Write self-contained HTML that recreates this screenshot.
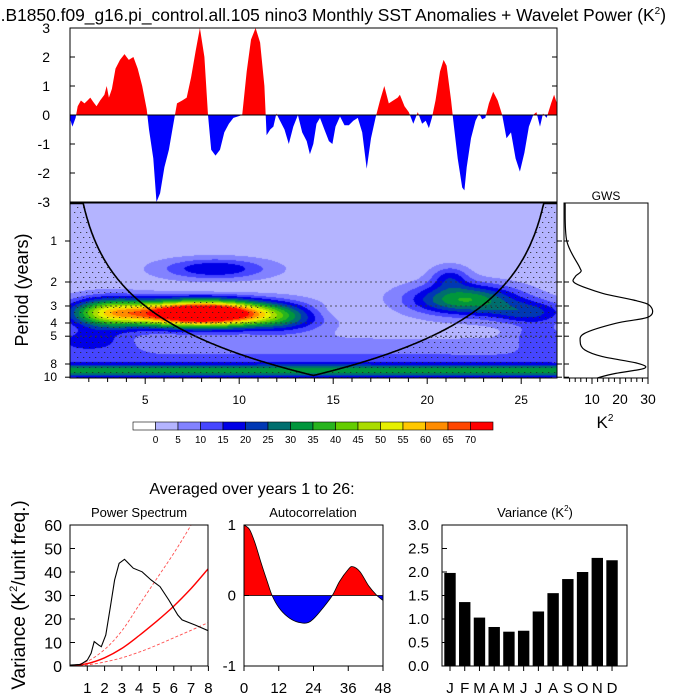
<!DOCTYPE html>
<html><head><meta charset="utf-8">
<style>
html,body{margin:0;padding:0;background:#fff;}
#wrap{position:relative;width:700px;height:700px;overflow:hidden;font-family:"Liberation Sans",Arial,sans-serif;}
canvas,svg{position:absolute;left:0;top:0;}
text{font-family:"Liberation Sans",Arial,sans-serif;}
</style></head>
<body>
<div id="wrap">
<canvas id="wv" width="700" height="700"></canvas>
<svg id="svg" width="700" height="700" xmlns="http://www.w3.org/2000/svg"></svg>
</div>
<script>
// ---- data ----
const sstYears = [0.99,1.13,1.30,1.41,1.58,1.77,1.93,2.08,2.24,2.41,2.60,2.83,2.95,3.07,3.23,3.42,3.66,3.90,4.13,4.37,4.60,4.84,5.08,5.20,5.43,5.60,5.79,6.02,6.26,6.50,6.69,6.97,7.21,7.44,7.68,7.91,8.15,8.34,8.51,8.74,8.98,9.21,9.45,9.69,9.92,10.16,10.40,10.63,10.87,11.11,11.34,11.46,11.65,11.82,11.98,12.17,12.41,12.64,12.88,13.12,13.35,13.59,13.76,13.94,14.11,14.30,14.53,14.77,14.96,15.12,15.36,15.60,15.83,16.07,16.31,16.54,16.78,17.01,17.25,17.49,17.72,17.96,18.19,18.43,18.55,18.79,19.02,19.26,19.50,19.73,19.92,20.09,20.25,20.44,20.68,20.87,21.03,21.27,21.39,21.62,21.86,21.98,22.10,22.33,22.57,22.76,22.92,23.09,23.28,23.51,23.75,23.99,24.22,24.46,24.70,24.93,25.17,25.41,25.64,25.81,26.00,26.16,26.35,26.59,26.75,26.90];
const sstAnom = [-0.1,-0.4,-0.1,0.3,0.5,0.4,0.5,0.6,0.45,0.3,0.5,0.7,1.0,0.6,0.9,1.6,1.9,2.1,1.9,2.0,1.6,1.0,0.2,-0.5,-1.5,-3.0,-2.7,-1.8,-1.2,-0.3,0.4,0.5,0.6,1.3,2.2,3.0,2.0,0,-1.2,-1.4,-1.2,-0.6,-0.3,-0.1,-0.05,0,1.5,2.6,3.0,2.5,1.0,-0.7,-0.5,-0.4,0.05,-0.2,-0.5,-1.0,-0.4,0.0,-0.6,-0.9,-1.35,-1.0,-0.3,-0.1,-0.5,-0.9,-1.0,-0.4,-0.05,-0.35,-0.35,-0.2,-0.1,-0.6,-1.85,-0.8,-0.1,0.5,1.0,0.4,0.5,0.6,0.7,0.3,0.1,-0.3,0.1,-0.3,-0.2,-0.45,-0.1,0.5,1.5,1.9,1.7,0.5,-0.2,-1.5,-2.5,-2.6,-1.8,-0.8,-0.2,0.05,-0.15,-0.1,0.4,0.8,0.5,0.0,-0.8,-0.6,-1.5,-1.95,-1.3,-0.4,0.0,0.1,-0.4,0.05,-0.1,0.4,0.7,0.4];
const sstTicks = [3,2,1,0,-1,-2,-3];

// wavelet power blobs: centre year, centre log2(period), sigma year, sigma log2, amplitude
const blobYear = [8.0, 3.0, 12.5, 22.0, 25.5, 8.7, 21.2, 14, 14, 2.0, 26.0, 15.0, 9.0];
const blobLogP = [1.77, 1.75, 1.9, 1.43, 1.75, 0.68, 0.89, 3.17, 2.8, 2.4, 2.3, 1.72, 1.14];
const blobSigY = [2.6, 1.5, 1.5, 2.0, 1.5, 2.0, 0.7, 60, 60, 1.5, 1.0, 1.5, 1.8];
const blobSigP = [0.22, 0.25, 0.25, 0.26, 0.2, 0.18, 0.2, 0.12, 0.3, 0.2, 0.2, 0.15, 0.08];
const blobAmp = [100, 40, 15, 33, 18, 18, 14, 28, 8, 12, 10, -4, -4];
const powerBase = 2;
const periodTicks = [1,2,3,4,5,8,10];
const yearTicks = [5,10,15,20,25];
const levelLabels = [0,5,10,15,20,25,30,35,40,45,50,55,60,65,70];
const levelColors = ['#ffffff','#b4b4ff','#8282ff','#4646ff','#0000e6','#0038b4','#006e6e','#00963c','#28b41e','#64cd00','#aadc00','#e6f000','#ffc800','#ff8c00','#ff4600','#ff0000'];

const gwsPeriod = [0.53,1.0,1.55,1.68,1.83,2.04,2.42,2.71,3.0,3.6,4.02,4.76,5.49,6.3,7.06,7.9,8.6,9.37,10.1];
const gwsPower = [0.4,1,5.5,6,4,4,13.7,24.8,30.8,30.3,18.5,7.4,5.8,7.4,13.7,26.3,28.7,18.5,12];
const gwsTicks = [10,20,30];

const psFreq = [0.03,0.62,1.0,1.22,1.4,1.66,1.81,2.07,2.33,2.58,2.84,3.15,3.66,4.17,4.69,5.2,5.71,6.23,6.48,7.25,8.0];
const psPower = [0.4,0.7,2.5,5.4,10.4,8.9,8.2,13.2,25,36.6,43.7,45.4,41.6,40.1,36.6,33.8,28.1,21.7,19.6,17.4,15];
const redFreq = [0,1,2,3,4,5,6,7,8];
const redMean = [0,1,3.5,7.5,13,19,25.5,33,41.5];
const redUpper = [0,2,7,15,26,37,48,60,73];
const redLower = [0,0.5,1.7,3.5,5.9,8.8,12,15.2,18.5];
const psYTicks = [0,10,20,30,40,50,60];
const psXTicks = [1,2,3,4,5,6,7,8];

const acLag = [0,2,4,6,8,9.7,12,15,18,21.6,24,27,30.5,33,36,37.5,40,43,45.9,48];
const acVal = [1,0.93,0.72,0.45,0.2,0,-0.17,-0.3,-0.37,-0.39,-0.33,-0.19,0,0.2,0.37,0.41,0.34,0.14,0,-0.07];
const acXTicks = [0,12,24,36,48];
const acYTicks = [1,0,-1];

const months = ['J','F','M','A','M','J','J','A','S','O','N','D'];
const monthVar = [1.98,1.36,1.03,0.83,0.73,0.75,1.16,1.55,1.85,2.0,2.3,2.25];
const varTicks = [0,0.5,1,1.5,2,2.5,3];

// ---- scales ----
const X0=70, X1=557;
const xT = yr => X0 + (yr-1)*18.8;
const yA = v => 115 - v*29;
const WT=203, WB=378;
const yP = p => 241 + 41*Math.log2(p);
const xG = v => 564 + 2.8*v;
const xF = f => 70 + 17.3*f;
const yPS = v => 666 - v*141/60;
const xL = l => 244 + l*139/48;
const yC = c => 595.5 - c*70.5;
const xM = i => 450 + i*14.73;
const yV = v => 666 - v*47;

const NS='http://www.w3.org/2000/svg';
const svg=document.getElementById('svg');
function mk(tag, attrs, parent){const e=document.createElementNS(NS,tag);for(const k in attrs)e.setAttribute(k,attrs[k]);(parent||svg).appendChild(e);return e;}
function txt(x,y,s,size,anchor,parent){const t=mk('text',{x:x,y:y,'font-size':size,'text-anchor':anchor||'middle',fill:'#000'},parent);t.textContent=s;return t;}
function smoothPath(P){
  let d='M'+P[0][0].toFixed(1)+','+P[0][1].toFixed(1);
  for(let i=0;i<P.length-1;i++){
    const p0=P[Math.max(0,i-1)],p1=P[i],p2=P[i+1],p3=P[Math.min(P.length-1,i+2)];
    const c1=[p1[0]+(p2[0]-p0[0])/6,p1[1]+(p2[1]-p0[1])/6];
    const c2=[p2[0]-(p3[0]-p1[0])/6,p2[1]-(p3[1]-p1[1])/6];
    d+=' C'+c1[0].toFixed(1)+','+c1[1].toFixed(1)+' '+c2[0].toFixed(1)+','+c2[1].toFixed(1)+' '+p2[0].toFixed(1)+','+p2[1].toFixed(1);
  }
  return d;
}

// ---- title ----
let t=txt(666,21,'',17.4,'end');


t.innerHTML='5.B1850.f09_g16.pi_control.all.105 nino3 Monthly SST Anomalies + Wavelet Power (K<tspan font-size="10" dy="-7">2</tspan><tspan dy="7">)</tspan>';

// ---- top SST panel ----
const defs=mk('defs',{});
const cu=mk('clipPath',{id:'cu'},defs); mk('rect',{x:X0,y:28,width:X1-X0,height:87},cu);
const cd=mk('clipPath',{id:'cd'},defs); mk('rect',{x:X0,y:115,width:X1-X0,height:87},cd);
let pts=[[xT(sstYears[0]),yA(0)]];
for(let i=0;i<sstYears.length;i++)pts.push([xT(sstYears[i]),yA(Math.max(-3,Math.min(3,sstAnom[i])))]);
pts.push([xT(sstYears[sstYears.length-1]),yA(0)]);
const ps=pts.map(p=>p[0].toFixed(1)+','+p[1].toFixed(1)).join(' ');
let e=mk('polygon',{points:ps,fill:'#ff0000','clip-path':'url(#cu)'});


e=mk('polygon',{points:ps,fill:'#0000ff','clip-path':'url(#cd)'});


mk('line',{x1:X0,x2:X1,y1:yA(0),y2:yA(0),stroke:'#000','stroke-width':1});
e=mk('rect',{x:X0,y:28,width:X1-X0,height:174,fill:'none',stroke:'#000','stroke-width':1});


sstTicks.forEach(v=>{
  mk('line',{x1:X0,x2:X0+5,y1:yA(v),y2:yA(v),stroke:'#000'});
  mk('line',{x1:X1,x2:X1-5,y1:yA(v),y2:yA(v),stroke:'#000'});
  const l=txt(50,yA(v)+5,String(v),14,'end');
  
  
});

// ---- wavelet field ----
function field(yr,lp){
  let f=powerBase;
  for(let i=0;i<blobAmp.length;i++){
    const dy=(yr-blobYear[i])/blobSigY[i], dp=(lp-blobLogP[i])/blobSigP[i];
    f+=blobAmp[i]*Math.exp(-0.5*(dy*dy+dp*dp));
  }
  return f;
}
function levelIndex(f){return f<0?0:Math.min(15,1+Math.floor(f/5));}
const ctx=document.getElementById('wv').getContext('2d');
for(let py=WT;py<WB;py++){
  const lp=(py+0.5-241)/41;
  for(let px=X0;px<X1;px++){
    const yr=1+(px+0.5-X0)/18.8;
    ctx.fillStyle=levelColors[levelIndex(field(yr,lp))];
    ctx.fillRect(px,py,1,1);
  }
}
// COI
const yStart=1.0, yEnd=26.9, coiK=0.75;
const coiP = yr => Math.max(0.53, coiK*Math.min(yr-yStart,yEnd-yr));
const dotG=mk('g',{fill:'#222'});


for(let py=WT+4;py<WB;py+=5){
  const p=Math.pow(2,(py-241)/41);
  for(let px=X0+3+((py/5)%2)*3;px<X1;px+=6){
    const yr=1+(px-X0)/18.8;
    if(p>coiP(yr) || field(yr,Math.log2(p))>45) mk('rect',{x:px,y:py,width:1,height:1},dotG);
  }
}
let cp=[];
for(let yr=yStart;yr<=yEnd+0.001;yr+=0.05){cp.push(xT(yr).toFixed(1)+','+Math.min(WB,yP(coiP(yr))).toFixed(1));}
e=mk('polyline',{points:cp.join(' '),fill:'none',stroke:'#000','stroke-width':1.6});


[2,3,4,5].forEach(p=>{
  const l=mk('line',{x1:X0,x2:X1,y1:yP(p),y2:yP(p),stroke:'#333','stroke-width':0.8,'stroke-dasharray':'2,3'});
  
  
});
e=mk('rect',{x:X0,y:WT,width:X1-X0,height:WB-WT,fill:'none',stroke:'#000','stroke-width':1});


periodTicks.forEach(p=>{
  mk('line',{x1:X0-5,x2:X0,y1:yP(p),y2:yP(p),stroke:'#000'});
  mk('line',{x1:X1,x2:X1+5,y1:yP(p),y2:yP(p),stroke:'#000'});
  const l=txt(57,yP(p)+4,String(p),12,'end');
  
  
});
for(let yr=2;yr<=26;yr++){mk('line',{x1:xT(yr),x2:xT(yr),y1:WB,y2:WB+(yr%5==0?6:4),stroke:'#000'});}
yearTicks.forEach(y=>{
  const l=txt(xT(y),404,String(y),12,'middle');
  
  
});
t=txt(28,290,'Period (years)',18,'middle');
t.setAttribute('transform','rotate(-90 28 290)');



// ---- GWS ----
t=txt(606,200,'GWS',12,'middle');


const gwsPts=gwsPeriod.map((p,i)=>[xG(gwsPower[i]),Math.min(WB,yP(p))]);
e=mk('path',{d:smoothPath(gwsPts),fill:'none',stroke:'#000','stroke-width':1.2});


e=mk('rect',{x:564,y:WT,width:84,height:WB-WT,fill:'none',stroke:'#000','stroke-width':1});


periodTicks.forEach(p=>mk('line',{x1:564,x2:569,y1:yP(p),y2:yP(p),stroke:'#000'}));
for(let v=2;v<=30;v+=2)mk('line',{x1:xG(v),x2:xG(v),y1:WB,y2:WB+(v%10==0?6:4),stroke:'#000'});
gwsTicks.forEach(v=>{const l=txt(xG(v),404,String(v),14,'middle');
  
  });
t=txt(605,428,'',17,'middle');
t.innerHTML='K<tspan font-size="10" dy="-7">2</tspan>';



// ---- colorbar ----
const cbG=mk('g',{});


levelColors.forEach((c,i)=>{mk('rect',{x:133+i*22.5,y:422,width:22.5,height:8,fill:c,stroke:'#000','stroke-width':0.6},cbG);});
levelLabels.forEach((v,i)=>{txt(133+22.5*(i+1),443,String(v),10,'middle',cbG);});

// ---- bottom ----
t=txt(252,494,'Averaged over years 1 to 26:',16,'middle');


t=txt(25,595,'',19,'middle');
t.innerHTML='Variance (K<tspan font-size="11" dy="-8">2</tspan><tspan dy="8">/unit freq.)</tspan>';
t.setAttribute('transform','rotate(-90 25 595)');



// power spectrum
t=txt(139,517,'Power Spectrum',13,'middle');


function curve(xs,ys,fx,fy,attrs,name,smooth){
  const P=xs.map((x,i)=>[fx(x),fy(ys[i])]);
  const c=smooth?mk('path',Object.assign({d:smoothPath(P),fill:'none'},attrs)):mk('polyline',Object.assign({points:P.map(p=>p[0].toFixed(1)+','+p[1].toFixed(1)).join(' '),fill:'none'},attrs));
  
  
  return c;
}
const psClip=mk('clipPath',{id:'psc'},defs); mk('rect',{x:70,y:525,width:138,height:141},psClip);
let g=mk('g',{'clip-path':'url(#psc)'});
[[redUpper,'red-noise-upper'],[redLower,'red-noise-lower']].forEach(a=>{const c=curve(redFreq,a[0],xF,yPS,{stroke:'#ff5050','stroke-width':0.9,'stroke-dasharray':'3,2'},a[1],true);g.appendChild(c);});
g.appendChild(curve(redFreq,redMean,xF,yPS,{stroke:'#ff0000','stroke-width':1.4},'red-noise-mean',true));
g.appendChild(curve(psFreq,psPower,xF,yPS,{stroke:'#000','stroke-width':1.1},'power-spectrum-line',false));
e=mk('rect',{x:70,y:525,width:138,height:141,fill:'none',stroke:'#000'});


psYTicks.forEach(v=>{mk('line',{x1:70,x2:75,y1:yPS(v),y2:yPS(v),stroke:'#000'});
  const l=txt(62,yPS(v)+6,String(v),16,'end');
  
  });
psXTicks.forEach(v=>{mk('line',{x1:xF(v),x2:xF(v),y1:666,y2:671,stroke:'#000'});
  const l=txt(xF(v),693,String(v),15,'middle');
  
  });

// autocorrelation
t=txt(313,517,'Autocorrelation',13,'middle');


const ac0=yC(0);
const acPts=acLag.map((l,i)=>[xL(l),yC(acVal[i])]);
const acD=smoothPath(acPts)+' L'+xL(acLag[acLag.length-1]).toFixed(1)+','+ac0.toFixed(1)+' L'+xL(acLag[0]).toFixed(1)+','+ac0.toFixed(1)+' Z';
const au=mk('clipPath',{id:'au'},defs); mk('rect',{x:244,y:525,width:139,height:ac0-525},au);
const ad=mk('clipPath',{id:'ad'},defs); mk('rect',{x:244,y:ac0,width:139,height:666-ac0},ad);
e=mk('path',{d:acD,fill:'#ff0000','clip-path':'url(#au)'});


e=mk('path',{d:acD,fill:'#0000ff','clip-path':'url(#ad)'});


curve(acLag,acVal,xL,yC,{stroke:'#000','stroke-width':0.8},'autocorrelation-line',true);
mk('line',{x1:244,x2:383,y1:ac0,y2:ac0,stroke:'#000','stroke-width':0.8});
e=mk('rect',{x:244,y:525,width:139,height:141,fill:'none',stroke:'#000'});


acYTicks.forEach(v=>{mk('line',{x1:244,x2:249,y1:yC(v),y2:yC(v),stroke:'#000'});
  const l=txt(236,yC(v)+5,String(v),15,'end');
  
  });
acXTicks.forEach(v=>{mk('line',{x1:xL(v),x2:xL(v),y1:666,y2:671,stroke:'#000'});
  const l=txt(xL(v),693,String(v),15,'middle');
  
  });

// variance
t=txt(535,517,'',13,'middle');
t.innerHTML='Variance (K<tspan font-size="8" dy="-6">2</tspan><tspan dy="6">)</tspan>';


monthVar.forEach((v,i)=>{
  const b=mk('rect',{x:xM(i)-5.7,y:yV(v),width:11.4,height:666-yV(v),fill:'#000'});
  
  
  mk('line',{x1:xM(i),x2:xM(i),y1:666,y2:671,stroke:'#000'});
  const l=txt(xM(i),693,months[i],15,'middle');
  
  
});
e=mk('rect',{x:442,y:525,width:185,height:141,fill:'none',stroke:'#000'});


varTicks.forEach(v=>{mk('line',{x1:442,x2:447,y1:yV(v),y2:yV(v),stroke:'#000'});
  const l=txt(429,yV(v)+5,v.toFixed(1),15,'end');
  
  });
</script>
</body></html>
